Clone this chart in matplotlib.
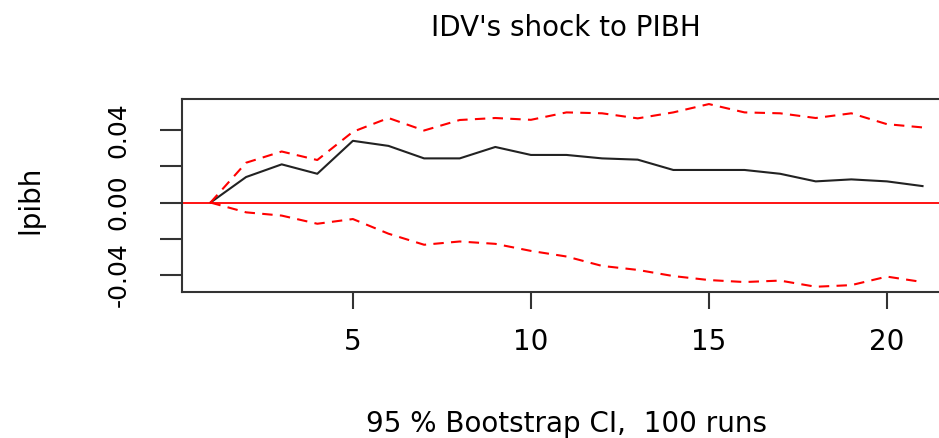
import matplotlib.pyplot as plt
import numpy as np

# impulse response of lpibh to IDV shock, with bootstrap bands
horizon = np.arange(1, 22)
irf = [0.0, 0.0141, 0.0211, 0.0159, 0.0341, 0.0313, 0.0244, 0.0244, 0.0307, 0.0263,
       0.0263, 0.0244, 0.0237, 0.0180, 0.0180, 0.0180, 0.0159, 0.0117, 0.0128, 0.0117, 0.0091]
upper = [0.0, 0.0220, 0.0282, 0.0235, 0.0391, 0.0467, 0.0398, 0.0456, 0.0467, 0.0457,
         0.0498, 0.0493, 0.0465, 0.0498, 0.0544, 0.0498, 0.0493, 0.0467, 0.0493, 0.0433, 0.0415]
lower = [0.0, -0.0054, -0.0072, -0.0117, -0.0091, -0.0172, -0.0233, -0.0215, -0.0228, -0.0267,
         -0.0298, -0.0350, -0.0372, -0.0406, -0.0428, -0.0439, -0.0431, -0.0465, -0.0456, -0.0409, -0.0439]
xticks = [5, 10, 15, 20]
yticks = [-0.04, -0.02, 0.0, 0.02, 0.04]
ytick_labels = ['-0.04', '', '0.00', '', '0.04']

plt.rcParams['font.family'] = ['DejaVu Sans']
fs = 20
dark = '#333333'

fig = plt.figure(figsize=(9.39, 4.38), dpi=100)
W, H = 939, 438
ax = fig.add_axes([182/W, 1-292/H, (951-182)/W, (292-99)/H])

ax.plot(horizon, irf, color='#222222', lw=1.5)
ax.plot(horizon, upper, color='red', lw=1.5, linestyle=(0, (5, 3.5)))
ax.plot(horizon, lower, color='red', lw=1.5, linestyle=(0, (5, 3.5)))
ax.axhline(0, color='red', lw=1.3)

ax.set_xlim(0.2, 21.8)
ax.set_ylim(-0.0494, 0.0572)
ax.set_xticks(xticks)
ax.set_xticklabels([str(t) for t in xticks], fontsize=fs)
ax.set_yticks(yticks)
ax.set_yticklabels(ytick_labels, fontsize=18, rotation=90, va='center')
ax.tick_params(axis='x', length=12, width=1.5, pad=14, color=dark)
ax.tick_params(axis='y', length=16, width=1.5, pad=21, color=dark)
for s in ax.spines.values():
    s.set_linewidth(1.5)
    s.set_color(dark)

fig.text(566/W, 1-28/H, "IDV's shock to PIBH", ha='center', va='center', fontsize=fs)
fig.text(566/W, 1-424/H, "95 % Bootstrap CI,  100 runs", ha='center', va='center', fontsize=fs)
fig.text(30/W, 1-200/H, "lpibh", ha='center', va='center', rotation=90, fontsize=fs)

fig.savefig('out.png', dpi=100)
